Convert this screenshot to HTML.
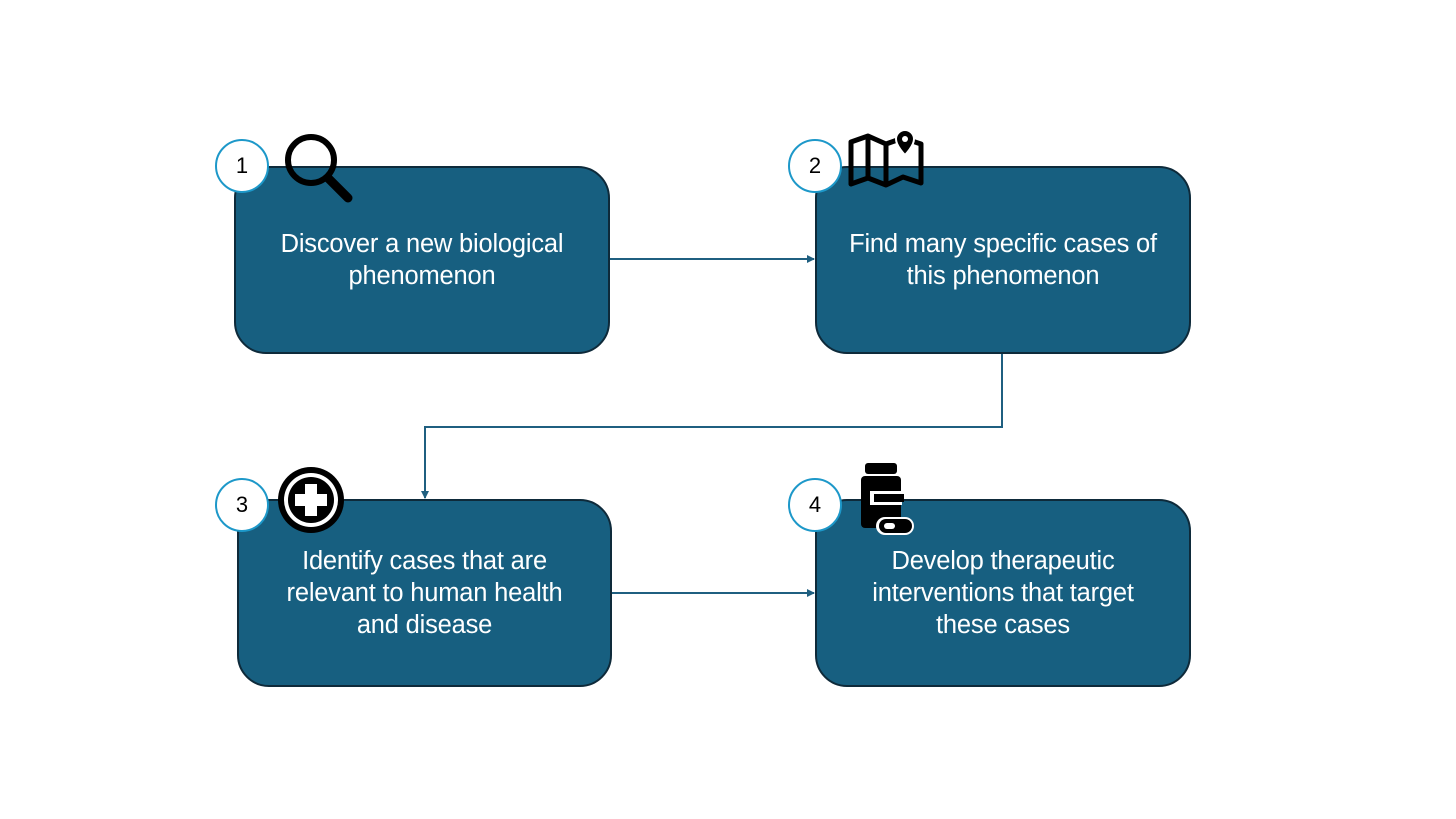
<!DOCTYPE html>
<html><head><style>
body{margin:0;width:1456px;height:819px;background:#fff;position:relative;overflow:hidden;font-family:"Liberation Sans",sans-serif}
.box{position:absolute;background:#175f80;border:2px solid #0e2a3a;border-radius:32px;box-sizing:border-box;color:#fff;font-size:25.5px;line-height:32px;text-align:center;letter-spacing:-0.2px}
.box div{position:absolute;left:-10px;right:-10px}
.c{position:absolute;width:54px;height:54px;border-radius:50%;background:#fff;border:2.5px solid #1d98c9;box-sizing:border-box;font-size:22px;line-height:49px;text-align:center;color:#000}
</style></head><body>
<div class="box" style="left:234px;top:166px;width:376px;height:188px"><div style="top:60px">Discover a new biological<br>phenomenon</div></div>
<div class="box" style="left:815px;top:166px;width:376px;height:188px"><div style="top:60px">Find many specific cases of<br>this phenomenon</div></div>
<div class="box" style="left:237px;top:499px;width:375px;height:188px"><div style="top:44px">Identify cases that are<br>relevant to human health<br>and disease</div></div>
<div class="box" style="left:815px;top:499px;width:376px;height:188px"><div style="top:44px">Develop therapeutic<br>interventions that target<br>these cases</div></div>
<svg width="1456" height="819" style="position:absolute;left:0;top:0">
<defs><marker id="a" markerWidth="8" markerHeight="8" refX="7" refY="4" orient="auto" markerUnits="userSpaceOnUse"><path d="M0,0 L8,4 L0,8z" fill="#1f5f80"/></marker></defs>
<g stroke="#1f5f80" stroke-width="2" fill="none">
<path d="M610,259 H814" marker-end="url(#a)"/>
<path d="M1002,354 V427 H425 V498" marker-end="url(#a)"/>
<path d="M612,593 H814" marker-end="url(#a)"/>
</g>
<circle cx="311" cy="160" r="23" stroke="#000" stroke-width="6" fill="none"/>
<line x1="328" y1="178" x2="348" y2="198" stroke="#000" stroke-width="9" stroke-linecap="round"/>
<path d="M851,142 L868,136 L886,144 L903,138 L921,144 L921,183 L903,177 L886,185 L868,178 L851,184Z" fill="none" stroke="#000" stroke-width="5" stroke-linejoin="round"/>
<line x1="868" y1="137" x2="868" y2="178" stroke="#000" stroke-width="5"/>
<line x1="886" y1="144" x2="886" y2="185" stroke="#000" stroke-width="5"/>
<path d="M905,130 a9,9 0 0 1 9,9 c0,7 -9,16 -9,16 c0,0 -9,-9 -9,-16 a9,9 0 0 1 9,-9z" fill="#000" stroke="#fff" stroke-width="2"/>
<circle cx="905" cy="139" r="3" fill="#fff"/>
<circle cx="311" cy="500" r="33" fill="#000"/>
<circle cx="311" cy="500" r="27" fill="#fff"/>
<circle cx="311" cy="500" r="23" fill="#000"/>
<path d="M305,484 h12 v10 h10 v12 h-10 v10 h-12 v-10 h-10 v-12 h10z" fill="#fff"/>
<rect x="865" y="463" width="32" height="11" rx="3" fill="#000"/>
<rect x="861" y="476" width="40" height="52" rx="4" fill="#000"/>
<rect x="870" y="491" width="32" height="14" fill="#fff"/>
<rect x="874" y="494" width="30" height="8" fill="#000"/>
<rect x="876" y="517" width="38" height="18" rx="9" fill="#fff"/>
<rect x="879" y="519" width="33" height="14" rx="7" fill="#000"/>
<rect x="884" y="523" width="11" height="6" rx="3" fill="#fff"/>
</svg>
<div class="c" style="left:215px;top:139px">1</div>
<div class="c" style="left:788px;top:139px">2</div>
<div class="c" style="left:215px;top:478px">3</div>
<div class="c" style="left:788px;top:478px">4</div>
</body></html>
